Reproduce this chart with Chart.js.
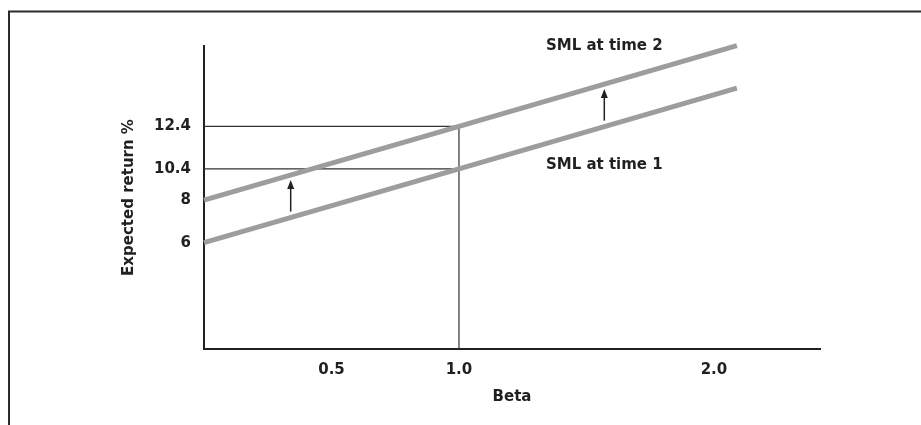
<!DOCTYPE html>
<html>
<head>
<meta charset="utf-8">
<script src="https://cdn.jsdelivr.net/npm/chart.js@4/dist/chart.umd.min.js"></script>
<style>
  body { margin: 0; background: #fff; overflow: hidden; }
  #wrap { width: 921px; height: 425px; position: relative; }
</style>
</head>
<body>
<div id="wrap"><canvas id="smlChart"></canvas></div>
<script>
// beta on the x axis, expected return % on the y axis
const betaPoints = [0, 1.0, 2.09];
const smlTime1 = [6, 10.4, 14.2];
const smlTime2 = [8, 12.4, 16.2];

const betaTicks = [0.5, 1.0, 2.0];
const returnTicks = [6, 8, 10.4, 12.4];

// reference lines drawn at beta 1.0
const markBeta = 1.0;
const markReturns = [10.4, 12.4];

// where the "shift up" arrows sit
const arrowBetas = [0.34, 1.57];
const lineLabels = ['SML at time 1', 'SML at time 2'];

const ink = '#231f20';
const smlGrey = '#9c9da1';

// the y axis in the figure is a sketch, ticks are not evenly spaced.
// each tick gets a slot on the drawn axis, values in between are interpolated
const returnSlots = [6, 8, 9.47, 11.47];

function toSlot(v) {
  const t = returnTicks, s = returnSlots;
  if (v <= t[0]) return s[0] + (v - t[0]);
  for (let i = 1; i < t.length; i++) {
    if (v <= t[i]) return s[i - 1] + (v - t[i - 1]) * (s[i] - s[i - 1]) / (t[i] - t[i - 1]);
  }
  return s[s.length - 1] + (v - t[t.length - 1]);
}

function fromSlot(u) {
  const t = returnTicks, s = returnSlots;
  if (u <= s[0]) return t[0] + (u - s[0]);
  for (let i = 1; i < s.length; i++) {
    if (u <= s[i]) return t[i - 1] + (u - s[i - 1]) * (t[i] - t[i - 1]) / (s[i] - s[i - 1]);
  }
  return t[t.length - 1] + (u - s[s.length - 1]);
}

class SchematicScale extends Chart.LinearScale {
  getPixelForValue(value) {
    return super.getPixelForValue(toSlot(value));
  }
  getValueForPixel(pixel) {
    return fromSlot(super.getValueForPixel(pixel));
  }
}
SchematicScale.id = 'schematic';
SchematicScale.defaults = Chart.LinearScale.defaults;
Chart.register(SchematicScale);

Chart.defaults.font.family = '"DejaVu Sans", sans-serif';
Chart.defaults.font.size = 15;
Chart.defaults.font.weight = 'bold';
Chart.defaults.color = ink;

function lineYAt(points, px) {
  for (let i = 0; i < points.length - 1; i++) {
    const a = points[i], b = points[i + 1];
    if (px >= a.x && px <= b.x) {
      return a.y + (b.y - a.y) * (px - a.x) / (b.x - a.x);
    }
  }
  return points[points.length - 1].y;
}

const framePlugin = {
  id: 'frame',
  beforeDraw(chart) {
    const ctx = chart.ctx;
    ctx.save();
    ctx.strokeStyle = '#2a2a2a';
    ctx.lineWidth = 2;
    ctx.beginPath();
    ctx.moveTo(9, chart.height);
    ctx.lineTo(9, 11.5);
    ctx.lineTo(chart.width, 11.5);
    ctx.stroke();
    ctx.restore();
  }
};

const guidePlugin = {
  id: 'guides',
  beforeDatasetsDraw(chart) {
    const { ctx, chartArea, scales: { x, y } } = chart;
    const gx = x.getPixelForValue(markBeta);
    ctx.save();
    ctx.strokeStyle = '#333';
    ctx.lineWidth = 1.2;
    ctx.beginPath();
    markReturns.forEach(r => {
      const gy = y.getPixelForValue(r);
      ctx.moveTo(chartArea.left, gy);
      ctx.lineTo(gx, gy);
    });
    ctx.moveTo(gx, y.getPixelForValue(Math.max(...markReturns)));
    ctx.lineTo(gx, chartArea.bottom);
    ctx.stroke();
    ctx.restore();
  }
};

const arrowPlugin = {
  id: 'arrows',
  afterDatasetsDraw(chart) {
    const { ctx, scales: { x } } = chart;
    const low = chart.getDatasetMeta(0).data;
    const high = chart.getDatasetMeta(1).data;
    ctx.save();
    ctx.strokeStyle = ink;
    ctx.fillStyle = ink;
    ctx.lineWidth = 1.5;
    arrowBetas.forEach(b => {
      const px = x.getPixelForValue(b);
      const y0 = lineYAt(low, px) - 6;
      const y1 = lineYAt(high, px) + 5;
      ctx.beginPath();
      ctx.moveTo(px, y0);
      ctx.lineTo(px, y1 + 6);
      ctx.stroke();
      ctx.beginPath();
      ctx.moveTo(px, y1);
      ctx.lineTo(px - 3.5, y1 + 9);
      ctx.lineTo(px + 3.5, y1 + 9);
      ctx.closePath();
      ctx.fill();
    });

    // line names, set above / below the lines at the second arrow
    const lx = x.getPixelForValue(arrowBetas[1]);
    ctx.font = 'bold 15px "DejaVu Sans", sans-serif';
    ctx.textAlign = 'center';
    ctx.textBaseline = 'middle';
    ctx.fillText(lineLabels[1], lx, lineYAt(high, lx) - 38);
    ctx.fillText(lineLabels[0], lx, lineYAt(low, lx) + 38);
    ctx.restore();
  }
};

function toPoints(values) {
  return betaPoints.map((b, i) => ({ x: b, y: values[i] }));
}

const ctx = document.getElementById('smlChart').getContext('2d');

const smlChart = new Chart(ctx, {
  type: 'line',
  data: {
    datasets: [{
      label: lineLabels[0],
      data: toPoints(smlTime1),
      borderColor: smlGrey,
      borderWidth: 5,
      borderCapStyle: 'butt',
      pointRadius: 0,
      tension: 0,
      clip: false
    }, {
      label: lineLabels[1],
      data: toPoints(smlTime2),
      borderColor: smlGrey,
      borderWidth: 5,
      borderCapStyle: 'butt',
      pointRadius: 0,
      tension: 0,
      clip: false
    }]
  },
  options: {
    responsive: true,
    maintainAspectRatio: false,
    animation: false,
    layout: { padding: { top: 46, right: 101, left: 0, bottom: 0 } },
    plugins: {
      legend: { display: false },
      tooltip: { enabled: false }
    },
    scales: {
      x: {
        type: 'linear',
        min: 0,
        max: 2.416,
        grid: { display: false, drawTicks: false },
        border: { display: true, color: ink, width: 2 },
        ticks: {
          padding: 12,
          autoSkip: false,
          maxRotation: 0,
          callback: v => v.toFixed(1)
        },
        afterBuildTicks: s => { s.ticks = betaTicks.map(v => ({ value: v })); },
        afterFit: s => { s.height = 76; },
        title: {
          display: true,
          text: 'Beta',
          padding: { top: 0, bottom: 19 }
        }
      },
      y: {
        type: 'schematic',
        min: 1,
        max: 15.25,
        grid: { display: false, drawTicks: false },
        border: { display: true, color: ink, width: 2 },
        ticks: {
          padding: 13,
          autoSkip: false,
          callback: v => String(v)
        },
        afterBuildTicks: s => { s.ticks = returnTicks.map(v => ({ value: v })); },
        afterFit: s => { s.width = 204; },
        title: {
          display: true,
          text: 'Expected return %',
          padding: { top: 120, bottom: 0 }
        }
      }
    }
  },
  plugins: [framePlugin, guidePlugin, arrowPlugin]
});
</script>
</body>
</html>
